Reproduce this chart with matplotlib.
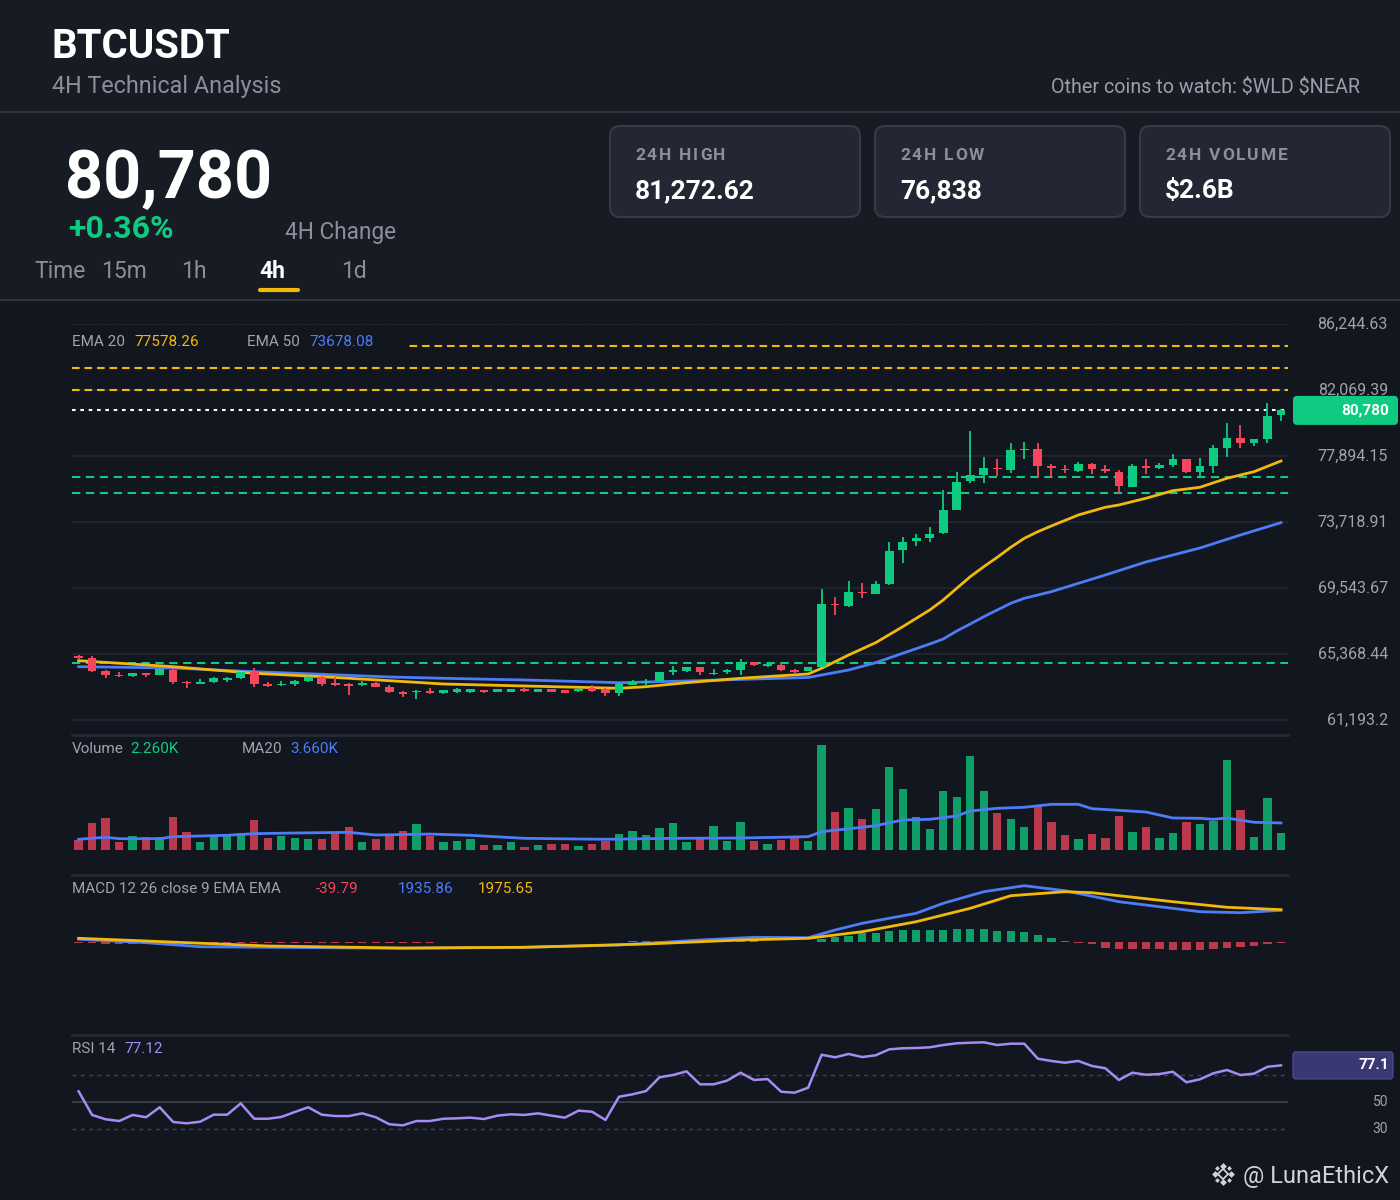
import matplotlib
matplotlib.use('Agg')
import matplotlib.pyplot as plt
from matplotlib.patches import FancyBboxPatch, Rectangle
import numpy as np

plt.rcParams['font.family'] = ['Roboto', 'DejaVu Sans']
plt.rcParams['lines.scale_dashes'] = False

# ---------------- text content ----------------
symbol = "BTCUSDT"
subtitle = "4H Technical Analysis"
watch_text = "Other coins to watch: $WLD $NEAR"
price_label = "80,780"
change_label = "+0.36%"
change_caption = "4H Change"
stat_labels = ["24H HIGH", "24H LOW", "24H VOLUME"]
stat_values = ["81,272.62", "76,838", "$2.6B"]
time_caption = "Time"
timeframes = ["15m", "1h", "4h", "1d"]
active_tf = "4h"
watermark = "@ LunaEthicX"

# ---------------- OHLC (4h candles) ----------------
opens = [65242, 65097, 64295, 64035, 63977, 64168, 64060, 64357, 63616, 63490,
         63574, 63726, 63869, 64251, 63490, 63389, 63490, 63643, 63933, 63516,
         63452, 63389, 63535, 63300, 62965, 62965, 63028, 62921, 62965, 62965,
         63092, 62965, 62984, 63174, 62984, 63155, 63073, 63009, 63237, 63174,
         62921, 63408, 63550, 63643, 64232, 64314, 64529, 64086, 64213, 64357,
         64863, 64610, 64693, 64357, 64314, 64567, 68547, 68421, 69310, 69184,
         69816, 71929, 72536, 72688, 73004, 74497, 76294, 76711, 77154, 77008,
         78274, 78356, 77262, 77091, 76964, 77388, 77053, 76882, 75952, 77262,
         77154, 77325, 77686, 76901, 77281, 78420, 79053, 78736, 78970, 80469]
highs = [65324, 65242, 64357, 64213, 64170, 64190, 64420, 64463, 63630, 63769,
         63914, 63895, 64230, 64463, 63584, 63660, 63726, 63956, 63977, 63895,
         63553, 63643, 63616, 63427, 63028, 63092, 63218, 63110, 63237, 63174,
         63110, 63160, 63180, 63200, 63180, 63180, 63090, 63200, 63408, 63190,
         63516, 63726, 63769, 64230, 64607, 64567, 64567, 64441, 64441, 65071,
         64880, 64780, 64780, 64400, 64540, 69461, 68956, 69968, 69860, 69987,
         72455, 72787, 72941, 73384, 75725, 76863, 79457, 77812, 77686, 78697,
         78761, 78736, 77388, 77325, 77496, 77432, 77344, 77008, 77370, 77724,
         77452, 78021, 77700, 77749, 78571, 79963, 79837, 78990, 81272, 80849]
lows = [64990, 64213, 63832, 63915, 63895, 63895, 64040, 63452, 63237, 63480,
        63516, 63616, 63769, 63300, 63282, 63364, 63364, 63600, 63345, 63364,
        62776, 63345, 63282, 62883, 62668, 62522, 62857, 62819, 62921, 62921,
        62921, 62940, 62960, 62990, 62960, 62960, 62900, 62990, 62990, 62731,
        62731, 63390, 63364, 63620, 64018, 64251, 64060, 64060, 64123, 64060,
        64640, 64567, 64314, 64168, 64290, 64540, 67817, 68357, 68893, 69165,
        69753, 71126, 72201, 72473, 72980, 74480, 76186, 76205, 76629, 76838,
        77686, 76484, 76547, 76838, 76901, 76756, 76819, 75535, 75930, 76756,
        77091, 77173, 76838, 76648, 76819, 77830, 78420, 78527, 78697, 80127]
closes = [65097, 64314, 64060, 63953, 64148, 64060, 64400, 63616, 63516, 63574,
          63869, 63832, 64211, 63452, 63345, 63490, 63680, 63914, 63471, 63389,
          63345, 63516, 63300, 62946, 62838, 63047, 62883, 63092, 63136, 63136,
          62946, 63136, 63155, 63009, 63155, 62984, 62921, 63174, 63009, 62921,
          63452, 63599, 63600, 64213, 64340, 64529, 64213, 64168, 64357, 64844,
          64654, 64736, 64357, 64213, 64516, 68528, 68446, 69291, 69209, 69797,
          71885, 72436, 72688, 72979, 74459, 76249, 76674, 77154, 77053, 78274,
          78356, 77281, 77154, 76990, 77388, 77053, 76927, 75996, 77262, 77154,
          77306, 77686, 76882, 77262, 78400, 79053, 78717, 78951, 80425, 80780]

# EMA lines (read at sampled candles)
ema20_idx = [0, 7, 13, 18, 23, 27, 33, 40, 42, 45, 49, 54, 55, 57, 59, 61, 63, 64, 65, 66,
             67, 68, 69, 70, 71, 72, 74, 76, 77, 79, 81, 83, 85, 87, 89]
ema20 = [64946, 64566, 64148, 63933, 63680, 63471, 63345, 63199, 63300, 63554, 63832, 64104,
         64465, 65306, 66084, 67096, 68153, 68786, 69526, 70260, 70892, 71487, 72119, 72689,
         73106, 73467, 74163, 74650, 74796, 75220, 75700, 75915, 76484, 76902, 77578.26]
ema50_idx = [0, 7, 13, 18, 23, 27, 33, 40, 45, 50, 54, 55, 57, 59, 61, 63, 64, 65, 66, 67,
             68, 69, 70, 71, 72, 76, 79, 83, 86, 89]
ema50 = [64566, 64483, 64249, 64085, 63914, 63832, 63724, 63554, 63661, 63787, 63882, 64040,
         64356, 64818, 65413, 66001, 66318, 66824, 67267, 67729, 68153, 68577, 68893, 69102,
         69310, 70367, 71189, 72074, 72897, 73678.08]

# horizontal levels
resistance_levels = [84853, 83461, 82069]
support_levels = [76566, 75554, 64800]

price_ticks = [86244.63, 82069.39, 77894.15, 73718.91, 69543.67, 65368.44, 61193.2]
price_tick_labels = ["86,244.63", "82,069.39", "77,894.15", "73,718.91", "69,543.67",
                     "65,368.44", "61,193.2"]

# Volume (K) and its MA20
volume = [1.35, 3.70, 4.33, 1.08, 1.89, 1.71, 1.71, 4.42, 2.48, 1.04,
          1.89, 2.16, 2.25, 4.06, 1.58, 1.89, 1.67, 1.53, 1.49, 2.25,
          3.11, 1.08, 1.53, 2.03, 2.53, 3.52, 1.85, 1.13, 1.17, 1.49,
          0.63, 0.72, 1.13, 0.41, 0.63, 0.81, 0.81, 0.59, 0.86, 1.22,
          2.21, 2.57, 1.98, 2.98, 3.65, 1.13, 1.71, 3.20, 1.22, 3.74,
          1.22, 0.81, 1.35, 1.71, 1.22, 14.2, 5.14, 5.68, 4.19, 5.50,
          11.19, 8.21, 4.42, 2.84, 7.94, 7.21, 12.68, 7.98, 4.96, 4.19,
          3.16, 5.95, 3.79, 1.98, 1.44, 2.21, 1.58, 4.56, 2.48, 3.07,
          1.67, 2.30, 3.74, 3.56, 3.92, 12.22, 5.41, 1.71, 6.99, 2.26]
vma_idx = [0, 2, 3, 6, 7, 11, 13, 16, 20, 22, 26, 29, 33, 37, 39, 44, 49, 54, 55, 58, 59,
           61, 63, 65, 66, 68, 70, 72, 74, 75, 77, 79, 81, 83, 84, 85, 87, 89]
vma = [1.45, 1.72, 1.53, 1.53, 1.80, 1.99, 2.21, 2.30, 2.39, 2.03, 2.16, 1.99, 1.58, 1.49,
       1.45, 1.58, 1.62, 1.80, 2.48, 3.07, 3.29, 4.06, 4.15, 4.60, 5.28, 5.64, 5.78, 6.18,
       6.18, 5.59, 5.37, 5.14, 4.33, 4.29, 4.15, 4.33, 3.75, 3.66]

# MACD
macd_idx = [0, 5, 9, 14, 24, 33, 40, 46, 50, 54, 56, 58, 62, 64, 67, 70, 73, 77, 83, 86, 89]
macd = [182, -24, -266, -303, -363, -303, -163, 139, 303, 278, 744, 1150, 1755, 2360, 3061,
        3424, 3122, 2456, 1851, 1791, 1935.86]
signal_idx = [0, 5, 14, 24, 33, 42, 49, 54, 58, 62, 66, 69, 73, 75, 81, 85, 89]
signal = [242, 79, -224, -345, -303, -103, 139, 242, 641, 1246, 2057, 2819, 3061, 3001, 2456,
          2118, 1975.65]
hist = [-60, -70, -75, -80, -80, -85, -80, -80, -75, -70,
        -65, -60, -55, -50, -45, -40, -40, -35, -30, -30,
        -25, -25, -20, -20, -20, -15, -15, -10, -5, 5,
        10, 15, 15, 20, 20, 25, 25, 25, 30, 35,
        45, 55, 60, 70, 75, 75, 70, 65, 60, 60,
        55, 45, 35, 25, 20, 200, 300, 405, 545, 587,
        684, 744, 744, 726, 744, 805, 805, 787, 708, 684,
        605, 442, 242, 79, -20, -103, -363, -381, -405, -405,
        -424, -442, -442, -466, -381, -345, -260, -200, -79, -39.79]

# RSI 14
rsi = [57.9, 40.4, 37.2, 35.9, 40.4, 38.7, 46.1, 35.2, 34.2, 35.4,
       40.6, 40.6, 49.0, 37.6, 37.6, 38.9, 42.6, 46.1, 40.6, 39.6,
       39.6, 41.6, 38.7, 33.5, 32.7, 35.9, 35.9, 37.6, 37.9, 38.4,
       37.4, 39.9, 40.9, 40.4, 41.6, 39.9, 38.4, 43.6, 42.8, 36.7,
       53.9, 55.7, 58.1, 68.3, 70.0, 72.7, 63.1, 63.1, 65.8, 71.7,
       66.3, 67.0, 57.6, 56.9, 60.6, 85.0, 83.1, 85.6, 83.3, 84.6,
       89.0, 89.8, 90.0, 90.5, 92.2, 93.5, 93.9, 94.2, 92.2, 93.2,
       93.2, 82.1, 80.4, 79.1, 80.4, 76.7, 75.0, 66.3, 71.7, 70.2,
       70.7, 72.4, 64.6, 66.8, 71.3, 73.7, 70.0, 71.0, 76.1, 77.12]
rsi_levels = [70, 50, 30]

legend_ema20 = "77578.26"
legend_ema50 = "73678.08"
legend_vol = "2.260K"
legend_vma = "3.660K"
legend_hist = "-39.79"
legend_macd = "1935.86"
legend_signal = "1975.65"
legend_rsi = "77.12"
rsi_tag = "77.1"

# ---------------- styling ----------------
GREEN = '#0ecb81'
RED = '#f6465d'
YELLOW = '#f0b90b'
BLUE = '#4d7cf6'
PURPLE = '#a48cf4'
GRAY = '#9ea3ad'
HEAD_BG = '#171b24'
CHART_BG = '#12161f'

W, H = 1400, 1200
fig = plt.figure(figsize=(14, 12), dpi=100)
fig.patch.set_facecolor(CHART_BG)

bg = fig.add_axes([0, 0, 1, 1], zorder=0)
bg.set_xlim(0, W); bg.set_ylim(H, 0); bg.axis('off')
bg.add_patch(Rectangle((0, 0), W, 300, color=HEAD_BG, zorder=0))
bg.plot([0, W], [112, 112], color='#2e333e', lw=1.5)
bg.plot([0, W], [300, 300], color='#2e333e', lw=1.5)
for yy in [735, 875, 1035]:
    bg.plot([72, 1288], [yy, yy], color='#262a35', lw=2)


def add_box(x0, y0, x1, y1, z=2):
    a = fig.add_axes([x0 / W, 1 - y1 / H, (x1 - x0) / W, (y1 - y0) / H], zorder=z)
    a.set_facecolor('none')
    for s in a.spines.values():
        s.set_visible(False)
    a.set_xticks([]); a.set_yticks([])
    return a


X_L, X_R = 72, 1288
cx0, cdx = 78.6, 13.51
xlim = ((X_L - cx0) / cdx, (X_R - cx0) / cdx)

idx = np.arange(len(closes))
o = np.array(opens, float); c = np.array(closes, float)
hi = np.array(highs, float); lo = np.array(lows, float)
up = c >= o
cols = np.where(up, GREEN, RED)

# ---------------- price panel ----------------
axp = add_box(X_L, 322, X_R, 735)
ppx = 66.0 / (price_ticks[0] - price_ticks[1])  # pixels per price unit
axp.set_xlim(*xlim)
axp.set_ylim(price_ticks[0] - (735 - 324) / ppx, price_ticks[0] + (324 - 322) / ppx)
axp.axhline(price_ticks[0], color='#2a2f3b', lw=1, dashes=(1, 1))
for t in price_ticks[1:]:
    axp.axhline(t, color='#222633', lw=1.2, zorder=1)
for v in resistance_levels:
    axp.axhline(v, color=YELLOW, lw=1.5, dashes=(5.5, 3.5), zorder=2)
for v in support_levels:
    axp.axhline(v, color=GREEN, lw=1.5, dashes=(6, 4), zorder=2)
axp.axhline(closes[-1], color='white', lw=1.5, dashes=(2.6, 3.4), zorder=2)
axp.plot(ema50_idx, ema50, color=BLUE, lw=2, zorder=3, solid_joinstyle='round')
axp.plot(ema20_idx, ema20, color=YELLOW, lw=2, zorder=3, solid_joinstyle='round')
axp.vlines(idx, lo, hi, colors=cols, lw=1.3, zorder=4)
bh = np.maximum(np.abs(c - o), 1.3 / ppx)
axp.bar(idx, bh, bottom=np.minimum(o, c), width=0.64, color=cols, zorder=5, linewidth=0)

# ---------------- volume panel ----------------
axv = add_box(X_L, 737, X_R, 850)
axv.set_xlim(*xlim)
axv.set_ylim(0, 15.29)
axv.bar(idx, volume, width=0.62, color=cols, alpha=0.75, linewidth=0)
axv.plot(vma_idx, vma, color=BLUE, lw=2, zorder=3)

# ---------------- MACD panel ----------------
axm = add_box(X_L, 877, X_R, 1033)
axm.set_xlim(*xlim)
axm.set_ylim(-(1033 - 942.3) * 60.5, (942.3 - 877) * 60.5)
hcols = np.where(np.array(hist) >= 0, GREEN, RED)
axm.bar(idx, hist, width=0.62, color=hcols, alpha=0.75, linewidth=0)
axm.plot(macd_idx, macd, color=BLUE, lw=2, zorder=3)
axm.plot(signal_idx, signal, color=YELLOW, lw=2, zorder=3)

# ---------------- RSI panel ----------------
axr = add_box(X_L, 1035, X_R, 1160)
axr.set_xlim(*xlim)
axr.set_ylim(50 - (1160 - 1102) / 1.35, 50 + (1102 - 1035) / 1.35)
axr.axhline(rsi_levels[0], color='#3e4350', lw=1, dashes=(3, 3))
axr.axhline(rsi_levels[1], color='#3a3f4b', lw=1.3)
axr.axhline(rsi_levels[2], color='#3e4350', lw=1, dashes=(3, 3))
axr.plot(idx, rsi, color=PURPLE, lw=1.8, zorder=3)

# ---------------- overlay (text, tags) ----------------
top = fig.add_axes([0, 0, 1, 1], zorder=10)
top.set_xlim(0, W); top.set_ylim(H, 0); top.axis('off'); top.set_facecolor('none')
renderer = fig.canvas.get_renderer()


def tx(x, y, s, size, color, weight='normal', ha='left', va='baseline', **kw):
    return top.text(x, y, s, fontsize=size, color=color, fontweight=weight, ha=ha, va=va,
                    parse_math=False, **kw)


def spaced(x, y, s, size, color, sp, weight='bold'):
    for ch in s:
        if ch == ' ':
            x += size * 100 / 72 * 0.26 + sp
            continue
        t = tx(x, y, ch, size, color, weight)
        bb = t.get_window_extent(renderer=renderer)
        x += bb.width + sp


def data_to_px(ax, v):
    return H - ax.transData.transform((0, v))[1]


# header
tx(52, 58, symbol, 29, 'white', 'bold')
tx(52, 93, subtitle, 16.8, '#8a8f9a')
tx(1360, 93, watch_text, 14.2, '#9a9fa9', ha='right')
tx(65, 198, price_label, 48, 'white', 'bold')
tx(68, 238, change_label, 23, GREEN, 'bold')
tx(285, 239, change_caption, 16.3, '#8a8f9a')
tx(34, 278, time_caption, 16.5, '#8a8f9a')
tf_x = [101, 181, 259, 341]
for s, x in zip(timeframes, tf_x):
    if s == active_tf:
        tx(x, 278, s, 16.5, 'white', 'bold')
    else:
        tx(x, 278, s, 16.5, '#8a8f9a')
top.plot([260, 298], [289.5, 289.5], color=YELLOW, lw=3, solid_capstyle='round')

card_x = [610, 875, 1140]
for x, lab, val in zip(card_x, stat_labels, stat_values):
    top.add_patch(FancyBboxPatch((x, 126), 250, 91, boxstyle='round,pad=0,rounding_size=10',
                                 fc='#222733', ec='#363b47', lw=1.5))
    spaced(x + 25, 160, lab, 12.5, '#8a8f9a', 1.8)
    tx(x + 25, 198, val, 19, 'white', 'bold')

# legends
top.add_patch(Rectangle((66, 331), 338, 22, color=CHART_BG, zorder=1))
LS = 11
tx(72, 346, "EMA 20", LS, GRAY, zorder=2)
tx(134, 346, legend_ema20, LS, YELLOW, zorder=2)
tx(247, 346, "EMA 50", LS, GRAY, zorder=2)
tx(309, 346, legend_ema50, LS, BLUE, zorder=2)
tx(72, 753, "Volume", LS, GRAY)
tx(130, 753, legend_vol, LS, GREEN)
tx(242, 753, "MA20", LS, GRAY)
tx(290, 753, legend_vma, LS, BLUE)
tx(72, 893, "MACD 12 26 close 9 EMA EMA", LS, GRAY)
tx(316, 893, legend_hist, LS, RED)
tx(398, 893, legend_macd, LS, BLUE)
tx(478, 893, legend_signal, LS, YELLOW)
tx(72, 1053, "RSI 14", LS, GRAY)
tx(124, 1053, legend_rsi, LS, PURPLE)

# price axis labels
for t, lab in zip(price_ticks, price_tick_labels):
    tx(1388, data_to_px(axp, t), lab, 11.5, GRAY, ha='right', va='center')

# last price tag
yp = data_to_px(axp, closes[-1])
top.add_patch(FancyBboxPatch((1293, yp - 14.5), 105, 29, boxstyle='round,pad=0,rounding_size=4',
                             fc=GREEN, ec='none'))
tx(1389, yp, price_label, 11, 'white', 'bold', ha='right', va='center')

# RSI axis labels and tag
for lv in rsi_levels[1:]:
    tx(1388, data_to_px(axr, lv), str(lv), 10, GRAY, ha='right', va='center')
yr = data_to_px(axr, rsi[-1])
top.add_patch(FancyBboxPatch((1293, yr - 13.5), 100, 27, boxstyle='round,pad=0,rounding_size=3',
                             fc='#393874', ec='#4a4890', lw=1))
tx(1389, yr, rsi_tag, 11, 'white', 'bold', ha='right', va='center')

# watermark
lx, ly = 1223, 1174
top.scatter([lx], [ly], marker='D', s=28, facecolor='none', edgecolor='#cfd2d8', linewidth=1.3)
top.scatter([lx - 8, lx + 8, lx, lx], [ly, ly, ly - 8, ly + 8], marker='D', s=12,
            color='#cfd2d8', linewidth=0)
top.scatter([lx - 6, lx + 6, lx - 6, lx + 6], [ly - 6, ly - 6, ly + 6, ly + 6], marker='D', s=6,
            color='#cfd2d8', linewidth=0)
tx(1243, 1183, watermark, 17, '#d0d3d9')

fig.savefig('out.png', dpi=100, facecolor=fig.get_facecolor())
